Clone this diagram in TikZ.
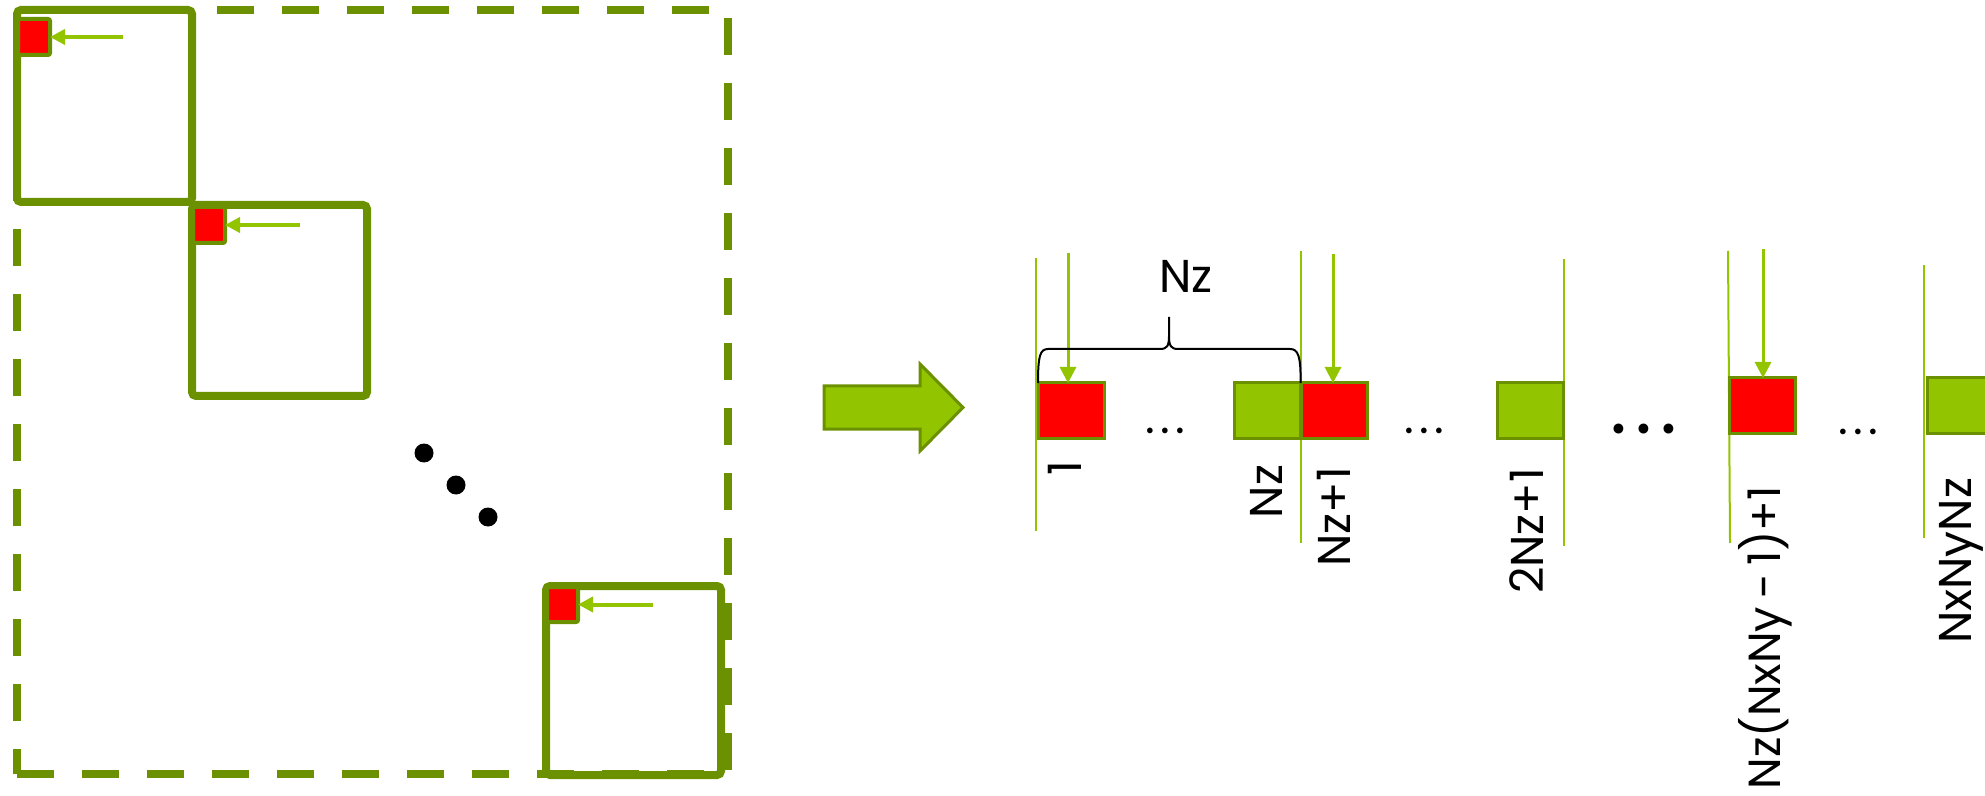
\documentclass[tikz,border=0pt]{standalone}
\usepackage{fontspec}
\setmainfont{Poppins}
\usetikzlibrary{arrows.meta}
\definecolor{lgreen}{RGB}{146,196,0}
\definecolor{dgreen}{RGB}{108,145,0}
\definecolor{myred}{RGB}{255,0,0}
\newcommand{\threedots}[1]{\makebox[#1]{.}\makebox[#1]{.}\makebox[#1]{.}}
\begin{document}
\begin{tikzpicture}[x=0.5pt,y=-0.5pt,
  dashline/.style={draw=dgreen,line width=4pt,dash pattern=on 18.5pt off 14pt,line cap=butt},
  bigsq/.style={draw=dgreen,line width=4pt,rounded corners=2pt,inner sep=0pt,outer sep=0pt,minimum width=87.5pt},
  smallsq/.style={draw=dgreen,fill=myred,line width=2pt,rounded corners=1pt,inner sep=0pt,outer sep=0pt,minimum width=16pt,minimum height=18pt},
  larrow/.style={draw=lgreen,line width=2pt,-{Triangle[length=7.5pt,width=7.5pt]}},
  cell/.style={draw=dgreen,line width=1.5pt,inner sep=0pt,outer sep=0pt,minimum width=33pt,minimum height=27.5pt},
  redcell/.style={cell,fill=myred},
  greencell/.style={cell,fill=lgreen},
  vline/.style={draw=lgreen,line width=1pt},
  garrow/.style={draw=lgreen,line width=1.5pt,-{Triangle[length=8pt,width=8pt]}},
  lbl/.style={inner sep=0pt,outer sep=0pt,font=\fontsize{23}{28}\selectfont},
  dots/.style={inner sep=0pt,outer sep=0pt},
  bigdot/.style={circle,fill=black,inner sep=0pt,outer sep=0pt,minimum size=9.5pt}
]
\clip (0,0) rectangle (1985,796);
\useasboundingbox (0,0) rectangle (1985,796);
% dashed outer square
\coordinate (M1) at (17,10);
\coordinate (M2) at (728,10);
\coordinate (M3) at (728,774);
\coordinate (M4) at (17,774);
\draw[dashline,dash phase=30pt] (M1) -- (M2);
\draw[dashline,dash phase=28.5pt] (M2) -- (M3);
\draw[dashline] (M4) -- (M3);
\draw[dashline,dash phase=20.5pt] (M1) -- (M4);
% diagonal blocks
\node[bigsq,minimum height=96pt] (Q1) at (104.5,106) {};
\node[bigsq,minimum height=95.5pt] (Q2) at (279.5,300.5) {};
\node[bigsq,minimum height=94.5pt] (Q3) at (633.5,680.5) {};
\node[smallsq] (s1) at (34,37) {};
\node[smallsq] (s2) at (209,225) {};
\node[smallsq,minimum width=15.5pt,minimum height=17.5pt] (s3) at (562.5,604.5) {};
\coordinate (c1) at (123,37);
\coordinate (c2) at (300,225);
\coordinate (c3) at (653,604.5);
\draw[larrow] (c1) -- (s1.east);
\draw[larrow] (c2) -- (s2.east);
\draw[larrow] (c3) -- (s3.east);
% diagonal dots
\node[bigdot] (p1) at (424,453) {};
\node[bigdot] (p2) at (456,485) {};
\node[bigdot] (p3) at (488,517) {};
% big arrow
\coordinate (A1) at (824,386);
\coordinate (A2) at (920,386);
\coordinate (A3) at (920,364);
\coordinate (A4) at (963,407.5);
\coordinate (A5) at (920,451);
\coordinate (A6) at (920,429);
\coordinate (A7) at (824,429);
\draw[draw=dgreen,fill=lgreen,line width=1.5pt] (A1) -- (A2) -- (A3) -- (A4) -- (A5) -- (A6) -- (A7) -- cycle;
% vertical lines
\coordinate (v1t) at (1036,258); \coordinate (v1b) at (1036,531);
\coordinate (v2t) at (1301,251); \coordinate (v2b) at (1301,543);
\coordinate (v3t) at (1564,259); \coordinate (v3b) at (1564,546);
\coordinate (v4t) at (1728,251); \coordinate (v4b) at (1730,543);
\coordinate (v5t) at (1924,265); \coordinate (v5b) at (1924,538);
\draw[vline] (v1t) -- (v1b);
\draw[vline] (v2t) -- (v2b);
\draw[vline] (v3t) -- (v3b);
\draw[vline] (v4t) -- (v4b);
\draw[vline] (v5t) -- (v5b);
% cells
\node[redcell] (b1) at (1071,410.5) {};
\node[greencell] (b2) at (1267.5,410.5) {};
\node[redcell] (b3) at (1334,410.5) {};
\node[greencell] (b4) at (1530,410.5) {};
\node[redcell] (b5) at (1762.5,405.5) {};
\node[greencell] (b6) at (1960,405.5) {};
% arrows
\coordinate (a1) at (1068,253);
\coordinate (a2) at (1333,254);
\coordinate (a3) at (1763,249);
\draw[garrow] (a1) -- (a1 |- b1.north);
\draw[garrow] (a2) -- (a2 |- b3.north);
\draw[garrow] (a3) -- (a3 |- b5.north);
% brace
\draw[line width=1pt] (b1.north west) .. controls (1038,356) and (1040,349) .. (1048,349) -- (1160,349)
  .. controls (1167,349) and (1169,346) .. (1169,336) -- (1169,317) -- (1169,336)
  .. controls (1169,346) and (1171,349) .. (1178,349) -- (1290,349)
  .. controls (1298,349) and (1301,356) .. (b2.north east);
\node[lbl,anchor=base] (nz) at (1186,293) {Nz};
% dots
\node[dots,font=\fontsize{23}{28}\selectfont] (e1) at (1165,431) {\threedots{7.5pt}};
\node[dots,font=\fontsize{23}{28}\selectfont] (e2) at (1424,431) {\threedots{7.5pt}};
\node[dots,font=\fontsize{40}{48}\selectfont] (e3) at (1644,429) {\threedots{12.5pt}};
\node[dots,font=\fontsize{23}{28}\selectfont] (e4) at (1858,432) {\threedots{7.5pt}};
% labels
\node[lbl,rotate=90,anchor=base east] (l1) at (1081,461) {1};
\node[lbl,rotate=90,anchor=base east] (l2) at (1282,465) {Nz};
\node[lbl,rotate=90,anchor=base east] (l3) at (1350,467) {Nz+1};
\node[lbl,rotate=90,anchor=base east] (l4) at (1543,468) {2Nz+1};
\node[lbl,rotate=90,anchor=base east,font=\fontsize{22.5}{27}\selectfont] (l5) at (1780,486) {Nz(NxNy\kern4pt-\kern4pt1)+1};
\node[lbl,rotate=90,anchor=base east] (l6) at (1971,478) {NxNyNz};
\end{tikzpicture}
\end{document}
